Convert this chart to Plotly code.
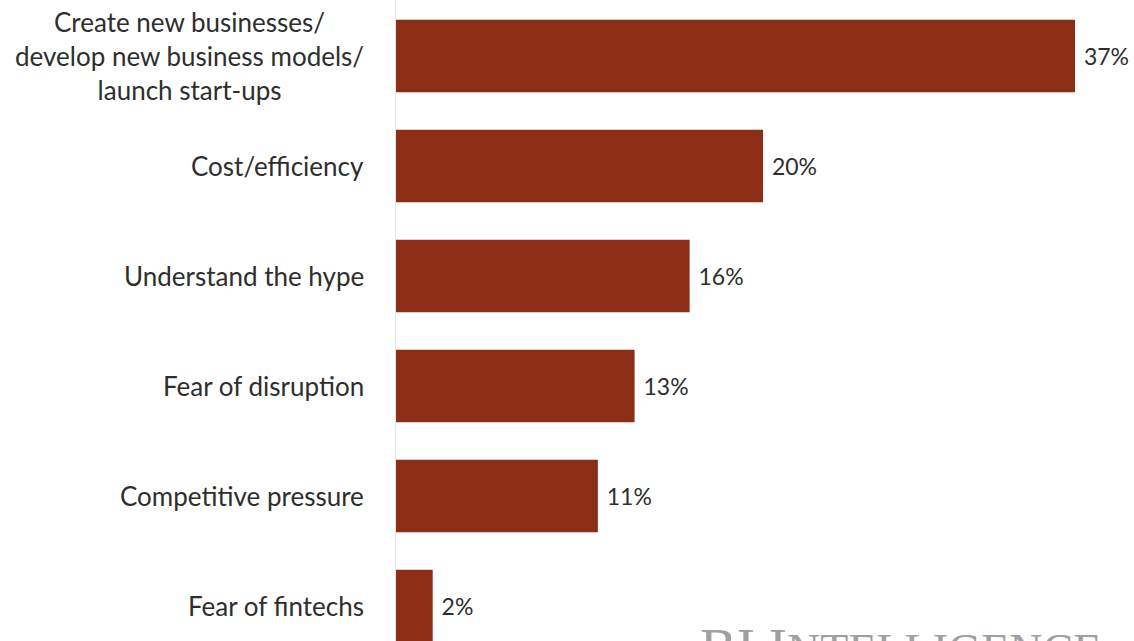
import plotly.graph_objects as go

categories = [
    "Create new businesses/<br>develop new business models/<br>launch start-ups",
    "Cost/efficiency",
    "Understand the hype",
    "Fear of disruption",
    "Competitive pressure",
    "Fear of fintechs",
]
values = [37, 20, 16, 13, 11, 2]
value_labels = [f"{v}%" for v in values]
positions = list(range(len(categories)))

W, H = 1134, 641
left = 396
px_per_unit = (1075 - 396) / 37.0
xmax = (W - left) / px_per_unit
step = 110.0
r0 = -56 / step
r1 = r0 + H / step

font_family = "Lato, 'Open Sans', sans-serif"
text_color = "#2e2e2e"

fig = go.Figure(go.Bar(
    x=values,
    y=positions,
    orientation="h",
    marker=dict(color="#8C2D16", line=dict(width=0)),
    text=value_labels,
    texttemplate=" %{text}",
    textposition="outside",
    textfont=dict(family=font_family, size=23, color=text_color),
    cliponaxis=False,
    width=0.66,
))

annotations = []
for pos, cat in zip(positions, categories):
    annotations.append(dict(
        text=cat, xref="paper", yref="y", x=0, y=pos,
        xanchor="right", yanchor="middle", xshift=-30, align="center",
        showarrow=False,
        font=dict(family=font_family, size=26, color=text_color),
    ))

annotations.append(dict(
    text="<span style='font-size:55px'>BI I</span>NTELLIGENCE",
    xref="paper", yref="paper",
    x=1.0, xshift=-31, y=26 / H, xanchor="right", yanchor="top",
    showarrow=False,
    font=dict(family="'Liberation Serif', 'DejaVu Serif', serif", size=46, color="#a0a0a0"),
))

fig.update_layout(
    width=W, height=H,
    margin=dict(l=left, r=0, t=0, b=0),
    paper_bgcolor="white",
    plot_bgcolor="white",
    showlegend=False,
    xaxis=dict(range=[0, xmax], visible=False, fixedrange=True),
    yaxis=dict(
        range=[r1, r0],
        tickvals=positions,
        showticklabels=False,
        showgrid=False,
        zeroline=False,
        showline=True,
        linecolor="#e4e4e4",
        linewidth=1,
        ticks="",
    ),
    annotations=annotations,
)

fig.write_html("out.html")
